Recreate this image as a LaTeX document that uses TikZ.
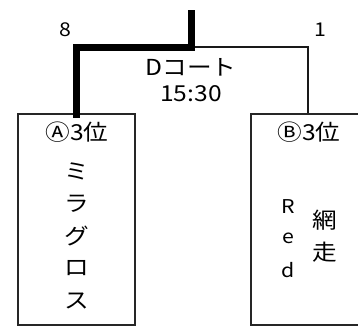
\documentclass[tikz,border=0pt]{standalone}
\usepackage{fontspec}
\setmainfont[FakeStretch=1.12]{Noto Sans CJK JP}
\usetikzlibrary{positioning}
\begin{document}
\begin{tikzpicture}[x=1pt,y=-1pt,font=\fontsize{22}{22}\selectfont,
		teambox/.style={draw=black!85,line width=1.8pt,minimum width=117pt,minimum height=211pt,inner sep=0pt},
		winline/.style={line width=7pt,line cap=rect},
		loseline/.style={line width=2pt,black!90}]
		\useasboundingbox (0,0) rectangle (358,327);
		\node[teambox] (boxA) at (76.5,219.5) {};
		\node[teambox,minimum width=114pt] (boxB) at (308,219.5) {};
		\coordinate (final) at (191.5,13);
		\coordinate (joint) at (191.5,47);
		\draw[loseline] (joint) -| (boxB.north);
		\draw[winline] (final) -- (joint) -| ([yshift=-1pt]boxA.north);
		\node[font=\fontsize{19}{19}\selectfont] (scoreA) at (65,30) {8};
		\node[font=\fontsize{19}{19}\selectfont] (scoreB) at (320,30) {1};
		\node (court) at (191,67) {Dコート};
		\node (time) at (191,94) {15:30};
		\node (seedA) at (77,132) {Ⓐ3位};
		\node (seedB) at (309,132) {Ⓑ3位};
		\foreach \c [count=\i] in {ミ,ラ,グ,ロ,ス}
			\node (nameA\i) at (76.5,{171+32.5*(\i-1)}) {\c};
		\foreach \c [count=\i] in {R,e,d}
			\node[font=\fontsize{19}{19}\selectfont] (nameB\i) at (288,{207+31.5*(\i-1)}) {\c};
		\foreach \c [count=\i] in {網,走}
			\node (townB\i) at (325,{220+32*(\i-1)}) {\c};
\end{tikzpicture}
\end{document}
